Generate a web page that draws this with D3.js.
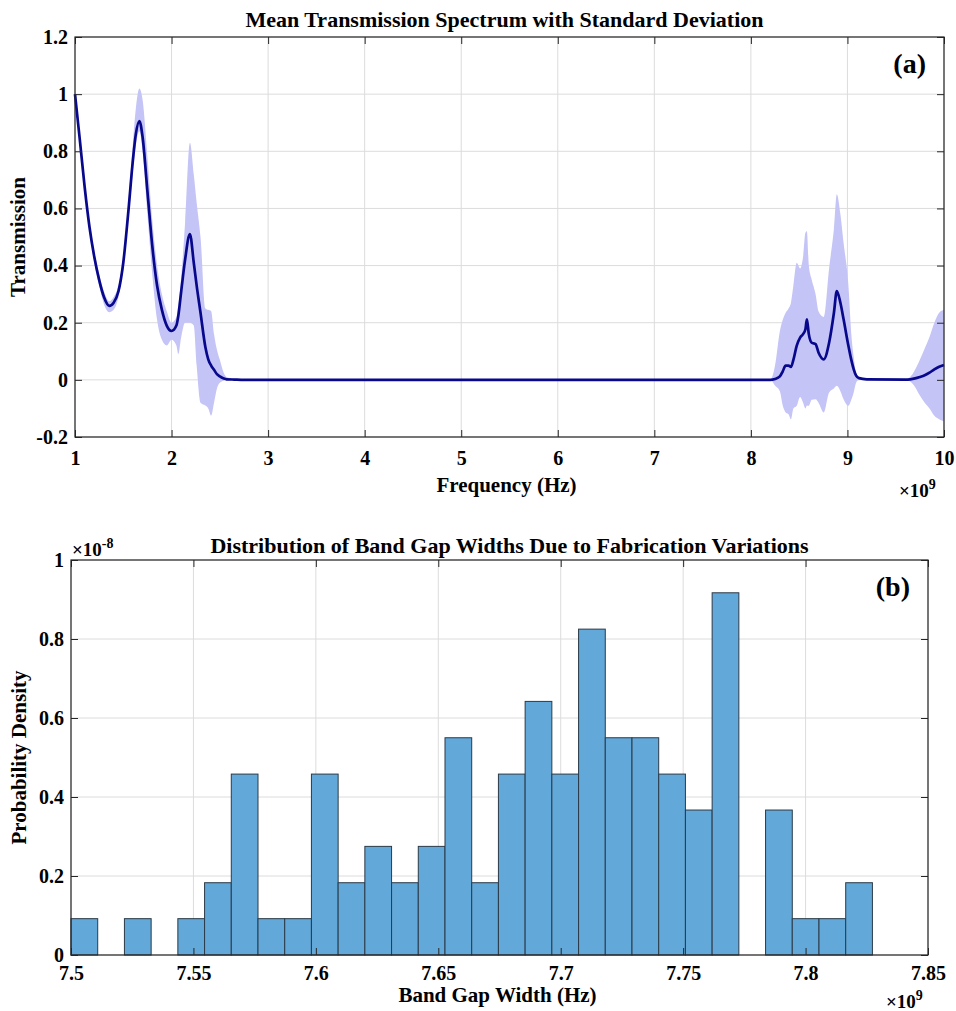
<!DOCTYPE html>
<html>
<head>
<meta charset="utf-8">
<script src="https://cdn.jsdelivr.net/npm/d3@7"></script>
<style>
  body { margin: 0; background: #fff; }
  svg text { font-family: "Liberation Serif", Tinos, "Times New Roman", Times, "Nimbus Roman", "Noto Serif", FreeSerif, "DejaVu Serif", serif !important; font-weight: bold; fill: #000; }
  .grid line { stroke: #dcdcdc; stroke-width: 1; }
  .axis line { stroke: #262626; }
</style>
</head>
<body>
<div id="chart"></div>
<script>
// ---- panel (a): mean transmission with std band (frequency in GHz) ----
var freq  = [1.00, 1.05, 1.10, 1.15, 1.20, 1.25, 1.30, 1.355, 1.40, 1.45, 1.50, 1.55, 1.60, 1.63, 1.667,
             1.70, 1.75, 1.80, 1.85, 1.90, 1.95, 2.00, 2.05, 2.07, 2.10, 2.14, 2.19, 2.23, 2.26, 2.30,
             2.35, 2.38, 2.41, 2.44, 2.47, 2.50, 2.54, 2.57, 2.65, 2.75, 8.20, 8.25, 8.30, 8.33, 8.36,
             8.39, 8.415, 8.44, 8.475, 8.51, 8.54, 8.565, 8.58, 8.60, 8.63, 8.67, 8.70, 8.755, 8.81, 8.86,
             8.89, 8.927, 8.96, 9.01, 9.04, 9.065, 9.09, 9.12, 9.20, 9.60, 9.65, 9.70, 9.75, 9.80, 9.85,
             9.90, 9.95, 10.0];
var meanT = [1.00, 0.84, 0.675, 0.535, 0.43, 0.35, 0.29, 0.259, 0.27, 0.31, 0.41, 0.58, 0.77, 0.86, 0.906,
             0.85, 0.66, 0.47, 0.33, 0.245, 0.19, 0.171, 0.19, 0.224, 0.31, 0.42, 0.51, 0.41, 0.33, 0.235,
             0.115, 0.072, 0.05, 0.035, 0.02, 0.012, 0.005, 0.002, 0.001, 0, 0, 0.003, 0.012, 0.03, 0.05,
             0.05, 0.045, 0.07, 0.12, 0.148, 0.16, 0.177, 0.212, 0.16, 0.13, 0.125, 0.096, 0.072, 0.13, 0.235,
             0.311, 0.27, 0.212, 0.119, 0.07, 0.037, 0.015, 0.006, 0.002, 0.001, 0.002, 0.005, 0.01, 0.016, 0.025,
             0.037, 0.046, 0.052];
var lowT  = [0.99, 0.83, 0.66, 0.52, 0.41, 0.33, 0.265, 0.237, 0.245, 0.29, 0.39, 0.55, 0.73, 0.82, 0.87,
             0.80, 0.58, 0.37, 0.21, 0.14, 0.12, 0.14, 0.12, 0.09, 0.15, 0.20, 0.20, 0.19, 0.05, -0.08,
             -0.09, -0.10, -0.125, -0.08, -0.03, -0.01, -0.003, 0, 0, 0, 0, -0.02, -0.04, -0.09, -0.114,
             -0.12, -0.138, -0.10, -0.091, -0.06, -0.079, -0.1, -0.09, -0.091, -0.07, -0.068, -0.08, -0.114, -0.044, -0.03,
             -0.021, -0.04, -0.068, -0.091, -0.07, -0.044, -0.01, 0, 0, -0.001, -0.006, -0.025, -0.055, -0.08, -0.10,
             -0.126, -0.138, -0.145];
var upT   = [1.01, 0.85, 0.69, 0.55, 0.45, 0.37, 0.31, 0.275, 0.29, 0.33, 0.43, 0.61, 0.83, 0.95, 1.02,
             0.98, 0.78, 0.56, 0.40, 0.30, 0.24, 0.20, 0.22, 0.26, 0.36, 0.55, 0.83, 0.72, 0.62, 0.50,
             0.25, 0.245, 0.24, 0.16, 0.105, 0.07, 0.025, 0.01, 0.004, 0, 0, 0.05, 0.17, 0.21, 0.235,
             0.25, 0.27, 0.33, 0.41, 0.39, 0.43, 0.515, 0.52, 0.40, 0.35, 0.30, 0.24, 0.22, 0.39, 0.53,
             0.65, 0.58, 0.48, 0.33, 0.16, 0.08, 0.025, 0.01, 0.004, 0.003, 0.01, 0.035, 0.07, 0.11, 0.15,
             0.20, 0.235, 0.245];
var xTicksA = [1, 2, 3, 4, 5, 6, 7, 8, 9, 10];
var yTicksA = [-0.2, 0, 0.2, 0.4, 0.6, 0.8, 1, 1.2];

// ---- panel (b): histogram of band gap widths (GHz, density x1e-8) ----
var binStart = 7.5;
var binWidth = 0.01091;
var density = [0.092, 0, 0.092, 0, 0.092, 0.183, 0.458, 0.092, 0.092, 0.458,
               0.183, 0.275, 0.183, 0.275, 0.550, 0.183, 0.458, 0.642, 0.458, 0.825,
               0.550, 0.550, 0.458, 0.367, 0.917, 0, 0.367, 0.092, 0.092, 0.183];
var xTicksB = [7.5, 7.55, 7.6, 7.65, 7.7, 7.75, 7.8, 7.85];
var yTicksB = [0, 0.2, 0.4, 0.6, 0.8, 1];

var svg = d3.select("#chart").append("svg")
  .attr("width", 956)
  .attr("height", 1011);

var fmt = d => String(+d.toFixed(2));

// light grid lines behind the data
function drawGrid(g, x, y, w, h, xt, yt) {
  g.append("g").attr("class", "grid")
    .selectAll("line").data(xt).enter().append("line")
    .attr("x1", d => x(d)).attr("x2", d => x(d)).attr("y1", 0).attr("y2", h);
  g.append("g").attr("class", "grid")
    .selectAll("line").data(yt).enter().append("line")
    .attr("y1", d => y(d)).attr("y2", d => y(d)).attr("x1", 0).attr("x2", w);
}

// box with inward ticks on all four sides
function drawAxes(g, x, y, w, h, xt, yt, xPad) {
  var tl = 7;
  g.append("g").attr("class", "axis")
    .attr("transform", `translate(0,${h})`)
    .call(d3.axisBottom(x).tickValues(xt).tickFormat(fmt).tickSizeInner(-tl).tickSizeOuter(0).tickPadding(xPad))
    .selectAll("text").style("font-size", "20px");
  g.append("g").attr("class", "axis")
    .call(d3.axisLeft(y).tickValues(yt).tickFormat(fmt).tickSizeInner(-tl).tickSizeOuter(0).tickPadding(7))
    .selectAll("text").style("font-size", "20px");
  g.append("g").attr("class", "axis")
    .call(d3.axisTop(x).tickValues(xt).tickFormat("").tickSizeInner(-tl).tickSizeOuter(0));
  g.append("g").attr("class", "axis")
    .attr("transform", `translate(${w},0)`)
    .call(d3.axisRight(y).tickValues(yt).tickFormat("").tickSizeInner(-tl).tickSizeOuter(0));
  g.selectAll(".axis path.domain").remove();
  g.append("rect")
    .attr("width", w).attr("height", h)
    .attr("fill", "none").attr("stroke", "#262626").attr("stroke-width", 1.2);
}

function addExponent(g, x, y, label) {
  var t = g.append("text")
    .attr("x", x).attr("y", y)
    .style("font-size", "19px");
  t.append("tspan").text("\u00d710");
  t.append("tspan").attr("dy", -8).style("font-size", "14px").text(label);
}

// ---------------- panel (a) ----------------
var mA = { left: 75, top: 37 };
var wA = 869, hA = 400;
var gA = svg.append("g").attr("transform", `translate(${mA.left},${mA.top})`);

var xA = d3.scaleLinear().domain([1, 10]).range([0, wA]);
var yA = d3.scaleLinear().domain([-0.2, 1.2]).range([hA, 0]);

drawGrid(gA, xA, yA, wA, hA, xTicksA, yTicksA);

var specData = freq.map((f, i) => ({ f: f, m: meanT[i], lo: lowT[i], hi: upT[i] }));

gA.append("path")
  .datum(specData)
  .attr("fill", "rgb(196,196,246)")
  .attr("d", d3.area().curve(d3.curveMonotoneX).x(d => xA(d.f)).y0(d => yA(d.lo)).y1(d => yA(d.hi)));

gA.append("path")
  .datum(specData)
  .attr("fill", "none")
  .attr("stroke", "rgb(8,8,140)")
  .attr("stroke-width", 2.7)
  .attr("stroke-linejoin", "round")
  .attr("d", d3.line().curve(d3.curveMonotoneX).x(d => xA(d.f)).y(d => yA(d.m)));

drawAxes(gA, xA, yA, wA, hA, xTicksA, yTicksA, 14);

gA.append("text")
  .attr("x", wA / 2 - 5).attr("y", -10)
  .attr("text-anchor", "middle")
  .style("font-size", "22px")
  .text("Mean Transmission Spectrum with Standard Deviation");

gA.append("text")
  .attr("x", wA / 2 - 3).attr("y", hA + 55)
  .attr("text-anchor", "middle")
  .style("font-size", "21px")
  .text("Frequency (Hz)");

gA.append("text")
  .attr("transform", `translate(${-50},${hA / 2}) rotate(-90)`)
  .attr("text-anchor", "middle")
  .style("font-size", "21px")
  .text("Transmission");

addExponent(gA, wA - 45, hA + 60, "9");

gA.append("text")
  .attr("x", wA - 18).attr("y", 36)
  .attr("text-anchor", "end")
  .style("font-size", "28px")
  .text("(a)");

// ---------------- panel (b) ----------------
var mB = { left: 71, top: 560 };
var wB = 857, hB = 395;
var gB = svg.append("g").attr("transform", `translate(${mB.left},${mB.top})`);

var xB = d3.scaleLinear().domain([7.5, 7.85]).range([0, wB]);
var yB = d3.scaleLinear().domain([0, 1]).range([hB, 0]);

drawGrid(gB, xB, yB, wB, hB, xTicksB, yTicksB);

var bins = density.map((d, i) => ({ x0: binStart + i * binWidth, x1: binStart + (i + 1) * binWidth, v: d }));

gB.selectAll("rect.bar")
  .data(bins.filter(b => b.v > 0))
  .enter().append("rect")
  .attr("class", "bar")
  .attr("x", d => xB(d.x0))
  .attr("y", d => yB(d.v))
  .attr("width", d => xB(d.x1) - xB(d.x0))
  .attr("height", d => yB(0) - yB(d.v))
  .attr("fill", "rgb(98,168,216)")
  .attr("stroke", "#2b3a48")
  .attr("stroke-width", 1);

drawAxes(gB, xB, yB, wB, hB, xTicksB, yTicksB, 11);

gB.append("text")
  .attr("x", wB / 2 + 10).attr("y", -7)
  .attr("text-anchor", "middle")
  .style("font-size", "22px")
  .text("Distribution of Band Gap Widths Due to Fabrication Variations");

gB.append("text")
  .attr("x", wB / 2 - 2).attr("y", hB + 47)
  .attr("text-anchor", "middle")
  .style("font-size", "21px")
  .text("Band Gap Width (Hz)");

gB.append("text")
  .attr("transform", `translate(${-45},${hB / 2}) rotate(-90)`)
  .attr("text-anchor", "middle")
  .style("font-size", "21px")
  .text("Probability Density");

addExponent(gB, wB - 42, hB + 53, "9");
addExponent(gB, 1, -4, "-8");

gB.append("text")
  .attr("x", wB - 18).attr("y", 36)
  .attr("text-anchor", "end")
  .style("font-size", "28px")
  .text("(b)");
</script>
</body>
</html>
